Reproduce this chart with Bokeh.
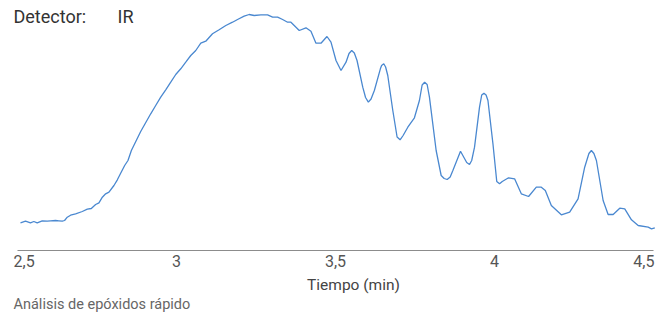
from bokeh.plotting import figure
from bokeh.models import Range1d, Label
from bokeh.embed import file_html
from bokeh.resources import INLINE

# Chromatogram trace (time in min, detector response in arbitrary units)
time_min = [
    2.5094, 2.5252, 2.5409, 2.5513, 2.5620, 2.5778, 2.5935, 2.6039, 2.6197, 2.6301,
    2.6408, 2.6480, 2.6565, 2.6669, 2.6827, 2.7038, 2.7195, 2.7321, 2.7457, 2.7561,
    2.7668, 2.7772, 2.7876, 2.8033, 2.8140, 2.8244, 2.8370, 2.8474, 2.8581, 2.8874,
    2.9189, 2.9346, 2.9504, 2.9661, 2.9819, 2.9976, 3.0134, 3.0291, 3.0449, 3.0606,
    3.0764, 3.0921, 3.1132, 3.1340, 3.1551, 3.1762, 3.1920, 3.2128, 3.2285, 3.2443,
    3.2654, 3.2865, 3.3022, 3.3180, 3.3337, 3.3494, 3.3598, 3.3702, 3.3860, 3.4071,
    3.4228, 3.4386, 3.4543, 3.4732, 3.4858, 3.5016, 3.5173, 3.5331, 3.5425, 3.5510,
    3.5592, 3.5677, 3.5857, 3.5945, 3.6033, 3.6118, 3.6222, 3.6411, 3.6450, 3.6518,
    3.6576, 3.6644, 3.6802, 3.6937, 3.7031, 3.7126, 3.7274, 3.7482, 3.7639, 3.7724,
    3.7803, 3.7882, 3.7954, 3.8165, 3.8323, 3.8417, 3.8512, 3.8606, 3.8691, 3.8931,
    3.9126, 3.9214, 3.9283, 3.9372, 3.9529, 3.9598, 3.9668, 3.9735, 3.9794, 3.9951,
    4.0071, 4.0159, 4.0244, 4.0443, 4.0632, 4.0843, 4.1072, 4.1315, 4.1472, 4.1598,
    4.1787, 4.2102, 4.2364, 4.2628, 4.2836, 4.2969, 4.3047, 4.3126, 4.3205, 4.3416,
    4.3573, 4.3731, 4.3939, 4.4096, 4.4307, 4.4518, 4.4833, 4.4937, 4.5041,
]
response = [
    2.77, 2.93, 2.77, 2.90, 2.77, 2.97, 2.93, 2.97, 3.00, 2.97,
    2.93, 3.00, 3.33, 3.53, 3.67, 3.90, 4.13, 4.20, 4.60, 4.77,
    5.33, 5.67, 5.83, 6.50, 7.07, 7.73, 8.50, 9.00, 10.00, 11.90,
    13.67, 14.50, 15.33, 16.07, 16.83, 17.60, 18.17, 18.83, 19.50, 20.00,
    20.73, 20.93, 21.67, 22.07, 22.50, 22.83, 23.10, 23.43, 23.60, 23.50,
    23.57, 23.57, 23.33, 23.33, 23.10, 22.83, 22.83, 22.50, 22.00, 22.27,
    21.93, 20.73, 20.73, 21.40, 20.83, 19.00, 18.00, 18.83, 19.70, 20.00,
    19.75, 19.00, 16.33, 15.30, 14.83, 15.15, 16.00, 18.17, 18.50, 18.67,
    18.35, 17.50, 14.00, 11.35, 11.07, 11.50, 12.33, 13.27, 15.00, 16.55,
    16.83, 16.60, 15.33, 10.00, 7.50, 7.20, 7.10, 7.35, 8.00, 9.93,
    8.80, 8.60, 9.00, 10.33, 14.33, 15.55, 15.73, 15.55, 15.00, 10.67,
    6.90, 6.67, 6.90, 7.27, 7.17, 5.67, 5.40, 6.33, 6.33, 6.00,
    4.50, 3.57, 3.83, 5.17, 8.33, 9.70, 10.00, 9.70, 9.00, 5.00,
    3.60, 3.60, 4.23, 4.17, 3.07, 2.50, 2.33, 2.17, 2.27,
]

tick_values = [2.5, 3.0, 3.5, 4.0, 4.5]
tick_labels = ["2,5", "3", "3,5", "4", "4,5"]

x_title = "Tiempo (min)"
detector_label = "Detector:"
detector_value = "IR"
caption = "Análisis de epóxidos rápido"

FONT = "Roboto"

# layout (pixels)
W, H = 655, 313
AXIS_LEFT, AXIS_RIGHT = 17, 653      # where first / last tick sit
AXIS_Y = 250                          # axis line, px from top
PX_PER_UNIT_Y = 10.0

px_per_min = (AXIS_RIGHT - AXIS_LEFT) / (tick_values[-1] - tick_values[0])
x_start = tick_values[0] - AXIS_LEFT / px_per_min
x_end = tick_values[0] + (W - AXIS_LEFT) / px_per_min
y_start = -(H - AXIS_Y) / PX_PER_UNIT_Y
y_end = AXIS_Y / PX_PER_UNIT_Y

p = figure(
    frame_width=W, frame_height=H,
    min_border=0, min_border_left=0, min_border_right=0, min_border_top=0, min_border_bottom=0,
    x_range=Range1d(x_start, x_end), y_range=Range1d(y_start, y_end),
    output_backend="svg", toolbar_location=None,
    x_axis_location=None, y_axis_location=None,
)
p.outline_line_color = None
p.xgrid.visible = False
p.ygrid.visible = False
p.background_fill_color = "white"
p.border_fill_color = "white"

# axis baseline between first and last tick
p.line([tick_values[0], tick_values[-1]], [0, 0], line_color="#8c8c8c", line_width=1.2)

# chromatogram
p.line(time_min, response, line_color="#4a88d0", line_width=1.3)


def sy(page_y):
    return H - page_y


n = len(tick_values)
for i, (tv, tl) in enumerate(zip(tick_values, tick_labels)):
    align, off = "center", 0
    if i == 0:
        align, off = "left", -4
    elif i == n - 1:
        align, off = "right", 1
    p.add_layout(Label(x=tv, y=sy(260), x_units="data", y_units="screen", text=tl,
                       x_offset=off, text_align=align, text_baseline="alphabetic",
                       text_font=FONT, text_font_size="16px", text_color="#555555"))

p.add_layout(Label(x=353, y=sy(284), x_units="screen", y_units="screen", text=x_title,
                   text_align="center", text_baseline="alphabetic",
                   text_font=FONT, text_font_size="15.5px", text_color="#444444"))

p.add_layout(Label(x=13, y=sy(16), x_units="screen", y_units="screen", text=detector_label,
                   text_align="left", text_baseline="alphabetic",
                   text_font=FONT, text_font_size="18px", text_color="#333333"))
p.add_layout(Label(x=117, y=sy(16), x_units="screen", y_units="screen", text=detector_value,
                   text_align="left", text_baseline="alphabetic",
                   text_font=FONT, text_font_size="18px", text_color="#333333"))

p.add_layout(Label(x=13, y=sy(304), x_units="screen", y_units="screen", text=caption,
                   text_align="left", text_baseline="alphabetic",
                   text_font=FONT, text_font_size="14.5px", text_color="#666666"))

open("out.html", "w").write(file_html(p, INLINE))
